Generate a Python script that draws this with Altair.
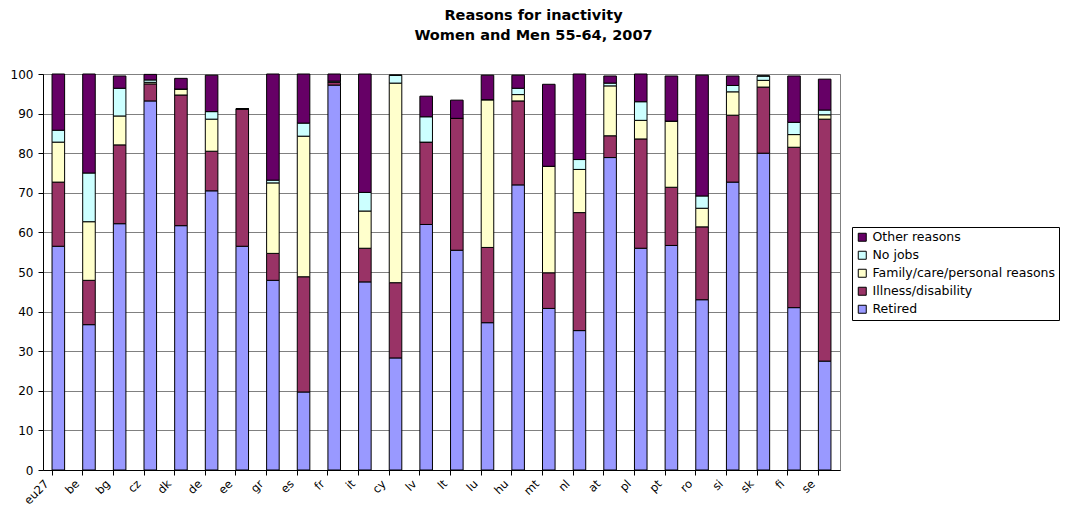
import altair as alt
import pandas as pd

countries = ["eu27", "be", "bg", "cz", "dk", "de", "ee", "gr", "es", "fr", "it", "cy", "lv", "lt",
             "lu", "hu", "mt", "nl", "at", "pl", "pt", "ro", "si", "sk", "fi", "se"]

retired = [56.5, 36.7, 62.2, 93.2, 61.7, 70.5, 56.5, 47.9, 19.7, 97.2, 47.5, 28.3, 62.0, 55.5,
           37.2, 72.0, 40.8, 35.2, 78.9, 56.0, 56.7, 43.0, 72.7, 80.0, 41.0, 27.5]
illness = [16.2, 11.2, 19.9, 4.3, 33.0, 10.0, 34.7, 6.8, 29.1, 0.7, 8.5, 19.0, 20.8, 33.3,
           19.0, 21.2, 9.0, 29.8, 5.5, 27.6, 14.7, 18.4, 16.9, 16.7, 40.5, 61.1]
family = [10.1, 14.8, 7.3, 0.4, 1.5, 8.1, 0.0, 17.8, 35.5, 0.0, 9.4, 50.4, 0.0, 0.0,
          37.3, 1.6, 26.9, 10.9, 12.6, 4.7, 16.7, 4.7, 5.9, 1.7, 3.2, 1.1]
no_jobs = [3.0, 12.3, 7.0, 0.6, 0.0, 1.9, 0.0, 0.7, 3.3, 0.3, 4.7, 2.0, 6.4, 0.0,
           0.0, 1.6, 0.0, 2.5, 0.7, 4.7, 0.0, 3.1, 1.6, 1.1, 3.1, 1.2]
other = [14.2, 25.0, 3.1, 1.4, 2.7, 9.2, 0.0, 26.8, 12.4, 1.8, 29.9, 0.0, 5.2, 4.6,
         6.2, 3.3, 20.7, 21.6, 1.8, 7.0, 11.4, 30.5, 2.4, 0.0, 11.7, 7.8]

series_names = ["Retired", "Illness/disability", "Family/care/personal reasons", "No jobs", "Other reasons"]
series_colors = ["#9999FF", "#993366", "#FFFFCC", "#CCFFFF", "#660066"]
y_ticks = list(range(0, 101, 10))

rows = []
for si, (name, vals) in enumerate(zip(series_names, [retired, illness, family, no_jobs, other])):
    for c, v in zip(countries, vals):
        rows.append({"country": c, "reason": name, "value": v, "order": si})
df = pd.DataFrame(rows)

legend_order = list(reversed(series_names))
legend_colors = list(reversed(series_colors))

font = "DejaVu Sans"

chart = alt.Chart(df).mark_bar(stroke="black", strokeWidth=1).encode(
    x=alt.X("country:N", sort=countries, title=None,
            scale=alt.Scale(paddingInner=0.59, paddingOuter=0.295),
            axis=alt.Axis(labelAngle=-45, bandPosition=0, labelAlign="right", labelBaseline="middle",
                          labelFontSize=11.5, labelFont=font, labelColor="black", labelOffset=-11,
                          domainColor="black", tickColor="black", tickSize=5, labelPadding=7,
                          grid=False)),
    y=alt.Y("value:Q", stack="zero", title=None,
            scale=alt.Scale(domain=[0, 100], nice=False),
            axis=alt.Axis(values=y_ticks, labelFontSize=12, labelFont=font, labelColor="black",
                          domainColor="black", tickColor="black", tickSize=5,
                          gridColor="#808080", gridWidth=1, labelPadding=5)),
    color=alt.Color("reason:N", sort=legend_order,
                    scale=alt.Scale(domain=legend_order, range=legend_colors),
                    legend=alt.Legend(title=None, orient="none", legendX=809, legendY=153,
                                      symbolType="square", symbolSize=64, symbolStrokeColor="black",
                                      symbolStrokeWidth=1, labelFontSize=12.5, labelFont=font,
                                      labelColor="black", strokeColor="black", padding=4,
                                      rowPadding=5, labelOffset=4, labelLimit=300)),
    order=alt.Order("order:Q", sort="ascending"),
    tooltip=["country", "reason", "value"],
).properties(
    width=797,
    height=396,
    autosize=alt.AutoSizeParams(type="none"),
    padding={"left": 35, "top": 66, "right": 222, "bottom": 40},
    title=alt.Title(["Reasons for inactivity", "Women and Men 55-64, 2007"], fontSize=14.5,
                    font=font, fontWeight="bold", color="black", anchor="middle", dx=92,
                    offset=25, lineHeight=20),
).configure_view(stroke="#808080", strokeWidth=1)

chart.save("out.html", embed_options={"renderer": "svg", "actions": False})
